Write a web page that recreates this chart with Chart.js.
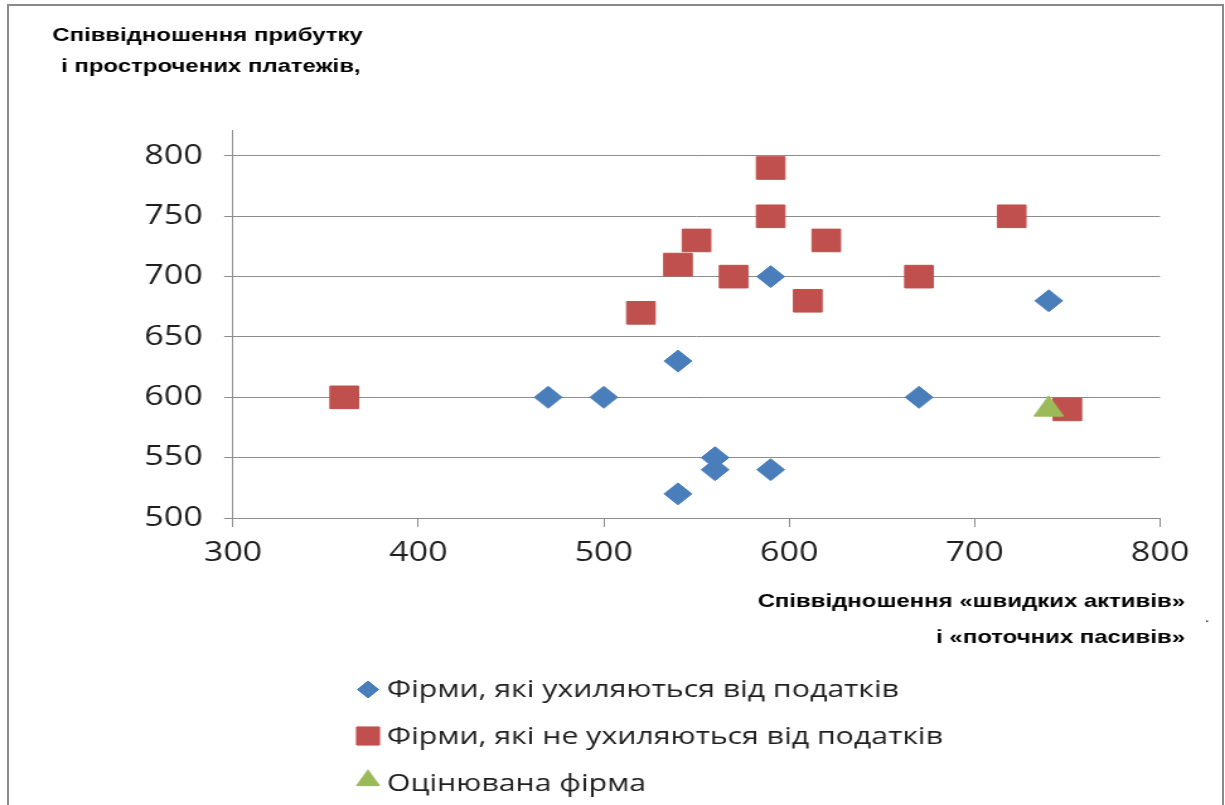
<!DOCTYPE html>
<html>
<head>
<meta charset="utf-8">
<script src="https://cdn.jsdelivr.net/npm/chart.js@4.4.1/dist/chart.umd.min.js"></script>
<style>
html,body{margin:0;padding:0;background:#fff;width:1225px;height:805px;overflow:hidden}
#frame{position:absolute;left:7px;top:4px;width:1217px;height:1000px;border:2.5px solid #8a8a8a;box-sizing:border-box}
#wrap{position:absolute;left:0;top:0;width:972px;height:805px;transform:scaleX(1.2603);transform-origin:0 0}
</style>
</head>
<body>
<div id="frame"></div>
<div id="wrap"><canvas id="c"></canvas></div>
<script>
// ---- data ----
const xTicks = [300, 400, 500, 600, 700, 800];
const yTicks = [500, 550, 600, 650, 700, 750, 800];

const evadersX = [470, 500, 540, 560, 560, 590, 540, 590, 670, 740];
const evadersY = [600, 600, 630, 550, 540, 540, 520, 700, 600, 680];

const nonEvadersX = [360, 520, 540, 550, 570, 590, 590, 610, 620, 670, 720, 750];
const nonEvadersY = [600, 670, 710, 730, 700, 790, 750, 680, 730, 700, 750, 590];

const assessedX = [740];
const assessedY = [590];

const seriesLabels = [
  'Фірми, які ухиляються від податків',
  'Фірми, які не ухиляються від податків',
  'Оцінювана фірма'
];
const yTitleLines = ['Співвідношення прибутку', ' і прострочених платежів,'];
const xTitleLines = ['Співвідношення «швидких активів»', 'і «поточних пасивів»'];

// ---- layout helpers (stretched page px -> canvas px) ----
const S = 1.2603;
const toPts = (xs, ys) => xs.map((x, i) => ({x: x, y: ys[i]}));

const BLUE = '#4a7ebb', RED = '#c0504d', GREEN = '#9bbb59';
const GRID = '#8c8c8c', TEXT = '#1e1e1e';

const legendMarkers = [
  {style: 'rectRot', radius: 8.5},
  {style: 'rect', radius: 12.8},
  {style: 'triangle', radius: 10.5}
];

const decor = {
  id: 'decor',
  afterDraw(chart) {
    const ctx = chart.ctx;
    ctx.save();
    ctx.fillStyle = '#000';
    ctx.font = 'bold 19px "Liberation Sans", Arial, sans-serif';
    ctx.textBaseline = 'alphabetic';
    ctx.textAlign = 'center';
    ctx.fillText(yTitleLines[0], 207.5 / S, 40.7);
    ctx.fillText(yTitleLines[1], 207.5 / S, 71.5);
    ctx.textAlign = 'right';
    ctx.fillText(xTitleLines[0], 1185 / S, 607);
    ctx.fillText(xTitleLines[1], 1185 / S, 643);
    ctx.font = 'bold 9px "Liberation Sans", Arial, sans-serif';
    ctx.textAlign = 'center';
    ctx.fillText('.', 1207 / S, 622);

    // legend (vertical list)
    const rowsY = [689.5, 736, 783];
    chart.data.datasets.forEach((ds, i) => {
      const m = legendMarkers[i];
      const cx = 368 / S;
      let cy = rowsY[i];
      if (m.style === 'triangle') cy -= m.radius * 0.25;
      ctx.fillStyle = ds.backgroundColor;
      ctx.strokeStyle = ds.borderColor;
      ctx.lineWidth = 1;
      Chart.helpers.drawPoint(ctx, {pointStyle: m.style, radius: m.radius, rotation: 0, borderWidth: 1}, cx, cy);
      ctx.fillStyle = TEXT;
      ctx.font = '24px "Open Sans", sans-serif';
      ctx.textAlign = 'left';
      ctx.textBaseline = 'middle';
      ctx.fillText(ds.label, 387 / S, rowsY[i] + 1);
    });
    ctx.restore();
  }
};

function build() {
  new Chart(document.getElementById('c'), {
    type: 'scatter',
    data: {
      datasets: [
        {label: seriesLabels[0], data: toPts(evadersX, evadersY), pointStyle: 'rectRot', pointRadius: 11,
         backgroundColor: BLUE, borderColor: BLUE, borderWidth: 1, order: 2},
        {label: seriesLabels[1], data: toPts(nonEvadersX, nonEvadersY), pointStyle: 'rect', pointRadius: 16,
         backgroundColor: RED, borderColor: RED, borderWidth: 1, order: 3},
        {label: seriesLabels[2], data: toPts(assessedX, assessedY), pointStyle: 'triangle', pointRadius: 13.5,
         backgroundColor: GREEN, borderColor: GREEN, borderWidth: 1, order: 1}
      ]
    },
    options: {
      responsive: true,
      maintainAspectRatio: false,
      animation: false,
      events: [],
      layout: {padding: {left: 0, top: 130, right: 972 - 1160 / S, bottom: 805 - 518 - 60}, autoPadding: false},
      plugins: {legend: {display: false}, tooltip: {enabled: false}, title: {display: false}},
      scales: {
        x: {
          type: 'linear', position: 'bottom', min: 300, max: 800,
          afterBuildTicks: s => { s.ticks = xTicks.map(v => ({value: v})); },
          afterFit: s => { s.height = 60; },
          grid: {drawOnChartArea: false, drawTicks: true, tickLength: 9, color: GRID, lineWidth: 1},
          border: {display: true, color: GRID, width: 1},
          ticks: {padding: 10, color: TEXT, font: {family: '"Open Sans", sans-serif', size: 27}, maxRotation: 0}
        },
        y: {
          type: 'linear', position: 'left', min: 500, max: 821.5,
          afterBuildTicks: s => { s.ticks = yTicks.map(v => ({value: v})); },
          afterFit: s => { s.width = 233 / S; },
          grid: {drawOnChartArea: true, drawTicks: true, tickLength: 7, color: GRID, lineWidth: 1},
          border: {display: true, color: GRID, width: 1},
          ticks: {padding: 17, color: TEXT, font: {family: '"Open Sans", sans-serif', size: 27}}
        }
      }
    },
    plugins: [decor]
  });
}

const fontLoads = [
  '27px "Open Sans"', '24px "Open Sans"', 'bold 19px "Liberation Sans"'
].map(f => document.fonts.load(f).catch(() => null));
Promise.all(fontLoads).then(build, build);
</script>
</body>
</html>
